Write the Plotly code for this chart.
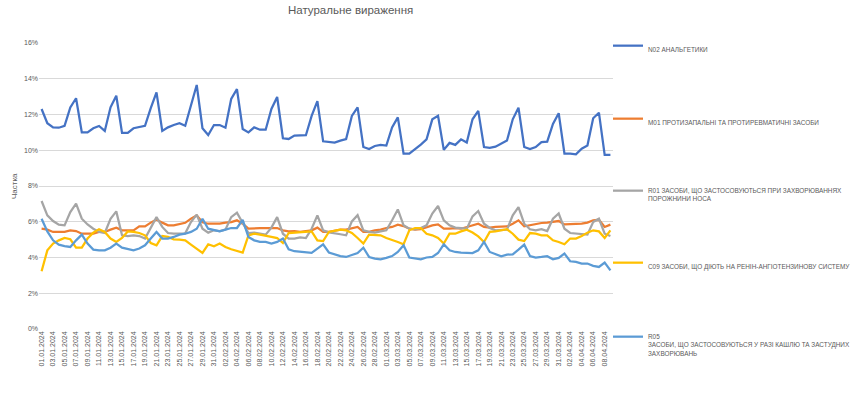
import pandas as pd
import plotly.graph_objects as go

dates = [d.strftime("%d.%m.%Y") for d in pd.date_range("2024-01-01", "2024-04-09")]
tick_labels = dates[::2]
y_ticks = [0, 2, 4, 6, 8, 10, 12, 14, 16]
y_tick_text = [f"{v}%" for v in y_ticks]

names = [
    "N02 АНАЛЬГЕТИКИ",
    "M01 ПРОТИЗАПАЛЬНІ ТА ПРОТИРЕВМАТИЧНІ ЗАСОБИ",
    "R01 ЗАСОБИ, ЩО ЗАСТОСОВУЮТЬСЯ ПРИ ЗАХВОРЮВАННЯХ<br>ПОРОЖНИНИ НОСА",
    "C09 ЗАСОБИ, ЩО ДІЮТЬ НА РЕНІН-АНГІОТЕНЗИНОВУ СИСТЕМУ",
    "R05<br>ЗАСОБИ, ЩО ЗАСТОСОВУЮТЬСЯ У РАЗІ КАШЛЮ ТА ЗАСТУДНИХ<br>ЗАХВОРЮВАНЬ",
]

n02 = [12.31, 11.51, 11.28, 11.26, 11.36, 12.40, 12.91, 11.00, 11.00, 11.23,
       11.36, 11.08, 12.40, 13.05, 10.97, 10.97, 11.23, 11.32, 11.37, 12.35,
       13.24, 11.08, 11.28, 11.41, 11.51, 11.37, 12.53, 13.65, 11.23, 10.85,
       11.41, 11.41, 11.26, 12.87, 13.42, 11.19, 11.00, 11.28, 11.15, 11.15,
       12.31, 12.98, 10.67, 10.63, 10.82, 10.82, 10.84, 11.92, 12.75, 10.50,
       10.46, 10.43, 10.54, 10.63, 11.92, 12.40, 10.18, 10.07, 10.24, 10.30,
       10.26, 11.28, 11.84, 9.81, 9.81, 10.05, 10.32, 10.61, 11.73, 11.93,
       10.02, 10.41, 10.30, 10.61, 10.43, 11.73, 12.20, 10.18, 10.13, 10.20,
       10.39, 10.54, 11.73, 12.38, 10.18, 10.07, 10.18, 10.45, 10.48, 11.47,
       12.07, 9.81, 9.81, 9.77, 10.09, 10.26, 11.79, 12.10, 9.74, 9.74]

m01 = [5.61, 5.56, 5.43, 5.43, 5.43, 5.52, 5.48, 5.33, 5.33, 5.33,
       5.43, 5.43, 5.56, 5.67, 5.52, 5.52, 5.52, 5.74, 5.74, 5.95,
       6.13, 5.95, 5.80, 5.80, 5.89, 5.94, 6.17, 6.35, 5.97, 5.89,
       5.89, 5.89, 5.95, 5.98, 6.08, 5.89, 5.61, 5.65, 5.65, 5.65,
       5.65, 5.65, 5.52, 5.46, 5.48, 5.43, 5.48, 5.52, 5.67, 5.43,
       5.43, 5.48, 5.56, 5.56, 5.65, 5.71, 5.43, 5.43, 5.52, 5.56,
       5.65, 5.71, 5.84, 5.76, 5.61, 5.56, 5.58, 5.71, 5.80, 5.85,
       5.61, 5.61, 5.65, 5.61, 5.71, 5.82, 5.89, 5.71, 5.67, 5.71,
       5.71, 5.74, 5.89, 6.08, 5.74, 5.80, 5.89, 5.93, 5.95, 5.98,
       6.04, 5.85, 5.85, 5.85, 5.89, 5.95, 6.08, 6.11, 5.71, 5.84]

r01 = [7.16, 6.36, 6.04, 5.84, 5.80, 6.54, 7.01, 6.17, 5.85, 5.61,
       5.43, 5.37, 6.17, 6.58, 5.24, 5.20, 5.24, 5.20, 5.06, 5.67,
       6.26, 5.71, 5.37, 5.33, 5.33, 5.35, 5.98, 6.40, 5.61, 5.39,
       5.52, 5.48, 5.56, 6.26, 6.51, 5.98, 5.37, 5.39, 5.33, 5.28,
       5.67, 6.26, 5.33, 5.06, 5.06, 5.12, 5.09, 5.61, 6.36, 5.52,
       5.41, 5.37, 5.30, 5.24, 6.02, 6.37, 5.52, 5.43, 5.39, 5.46,
       5.52, 6.08, 6.69, 5.80, 5.61, 5.58, 5.65, 5.80, 6.46, 6.88,
       6.08, 5.80, 5.67, 5.65, 5.61, 6.30, 6.60, 5.89, 5.65, 5.52,
       5.52, 5.56, 6.36, 6.82, 5.89, 5.58, 5.52, 5.58, 5.48, 6.17,
       6.46, 5.61, 5.37, 5.33, 5.28, 5.28, 5.98, 6.17, 5.33, 5.20]

c09 = [3.23, 4.40, 4.78, 4.96, 5.09, 5.02, 4.55, 4.55, 5.06, 5.39,
       5.58, 5.43, 5.06, 4.87, 5.09, 5.46, 5.43, 5.37, 5.24, 4.81,
       4.68, 5.20, 5.15, 5.02, 5.00, 4.96, 4.72, 4.50, 4.26, 4.74,
       4.63, 4.78, 4.59, 4.46, 4.35, 4.27, 5.24, 5.33, 5.28, 5.20,
       5.15, 5.09, 4.81, 5.37, 5.39, 5.39, 5.43, 5.46, 4.96, 4.92,
       5.43, 5.48, 5.56, 5.52, 5.37, 5.09, 4.78, 5.28, 5.28, 5.24,
       5.09, 5.00, 4.87, 4.74, 5.52, 5.65, 5.65, 5.33, 5.24, 5.09,
       4.78, 5.33, 5.33, 5.46, 5.56, 5.40, 5.18, 4.87, 5.43, 5.46,
       5.52, 5.58, 5.33, 5.00, 4.92, 5.37, 5.33, 5.24, 5.24, 4.96,
       4.87, 4.74, 5.06, 5.06, 5.20, 5.39, 5.52, 5.46, 5.09, 5.52]

r05 = [6.17, 5.46, 4.96, 4.72, 4.64, 4.59, 4.96, 5.28, 4.78, 4.44,
       4.40, 4.40, 4.55, 4.78, 4.55, 4.46, 4.40, 4.50, 4.68, 5.06,
       5.43, 5.06, 5.06, 5.15, 5.28, 5.33, 5.43, 5.61, 6.17, 5.61,
       5.52, 5.46, 5.56, 5.65, 5.65, 6.11, 5.15, 4.96, 4.87, 4.87,
       4.78, 4.87, 5.06, 4.46, 4.35, 4.31, 4.26, 4.26, 4.50, 4.74,
       4.28, 4.18, 4.08, 4.03, 4.12, 4.25, 4.55, 4.03, 3.94, 3.90,
       3.98, 4.08, 4.31, 4.68, 4.00, 3.94, 3.90, 4.00, 4.03, 4.25,
       4.74, 4.40, 4.31, 4.27, 4.25, 4.25, 4.40, 4.87, 4.31, 4.18,
       4.07, 4.16, 4.18, 4.44, 4.72, 4.08, 4.00, 4.03, 4.07, 3.90,
       3.98, 4.22, 3.79, 3.75, 3.66, 3.66, 3.53, 3.47, 3.72, 3.28]

series = [n02, m01, r01, c09, r05]
colors = ["#4472C4", "#ED7D31", "#A5A5A5", "#FFC000", "#5B9BD5"]
legend_ids = ["legend", "legend2", "legend3", "legend4", "legend5"]
legend_tops = [35, 108, 180, 252, 326]

TXT = "#595959"
FONT = "Liberation Sans, Arial, sans-serif"

fig = go.Figure()
for name, vals, col, lid in zip(names, series, colors, legend_ids):
    fig.add_trace(go.Scatter(
        x=dates, y=vals, mode="lines", name=name,
        line=dict(color=col, width=2.25),
        legend=lid,
    ))

layout_legends = {}
for lid, top in zip(legend_ids, legend_tops):
    layout_legends[lid] = dict(
        x=608 / 850, xref="container", xanchor="left",
        y=1 - top / 396, yref="container", yanchor="top",
        bgcolor="rgba(0,0,0,0)", valign="top",
        font=dict(family=FONT, size=6.4, color=TXT),
        itemwidth=30, tracegroupgap=0,
    )

PLOT_H = 396 - 43 - 67
PLOT_W = 850 - 39 - 237

fig.update_layout(
    width=850, height=396,
    margin=dict(l=39, r=237, t=43, b=67, autoexpand=False),
    paper_bgcolor="white", plot_bgcolor="white",
    showlegend=True,
    annotations=[
        dict(text="Натуральне вираження", xref="paper", yref="paper",
             x=(350 - 39) / PLOT_W, y=1 + (43 - 10) / PLOT_H,
             xanchor="center", yanchor="middle", showarrow=False,
             font=dict(family=FONT, size=11.5, color=TXT)),
        dict(text="Частка", textangle=-90, xref="paper", yref="paper",
             x=-25 / PLOT_W, y=0.5, xanchor="center", yanchor="middle", showarrow=False,
             font=dict(family=FONT, size=8, color=TXT)),
    ],
    **layout_legends,
)

fig.update_xaxes(
    type="category", range=[-0.45, 99.45], automargin=False,
    tickmode="array", tickvals=tick_labels, ticktext=tick_labels,
    tickangle=-90, tickfont=dict(family=FONT, size=7, color=TXT),
    showgrid=False, showline=False, zeroline=False, ticks="",
)
fig.update_yaxes(
    range=[0, 16], automargin=False,
    tickmode="array", tickvals=y_ticks, ticktext=y_tick_text,
    tickfont=dict(family=FONT, size=7, color=TXT),
    showgrid=True, gridcolor="#D9D9D9", gridwidth=1,
    zeroline=False, showline=False, ticks="",
)

fig.write_html("out.html", config={"displayModeBar": False},
               post_script="document.body.style.margin='0';")
